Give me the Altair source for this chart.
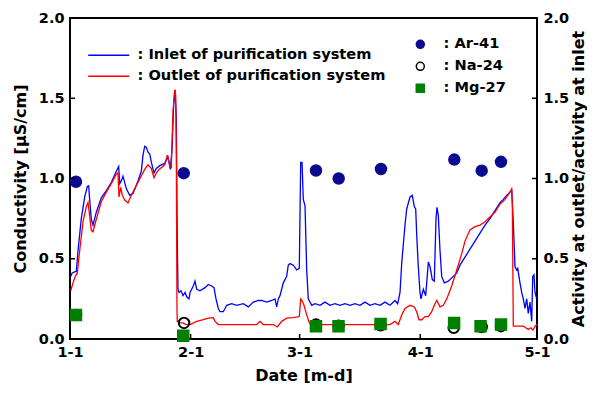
import altair as alt
import pandas as pd

# ---------------- data (days since 1-1, value) ----------------
inlet_day = [0.18, 0.51, 1.28, 1.62, 2.06, 2.90, 3.78, 4.45, 4.80, 5.06, 5.47, 5.91, 6.76, 8.04, 9.33,
             10.61, 11.90, 12.51, 12.77, 13.18, 13.62, 14.47, 15.34, 16.19, 17.47, 18.32, 18.76, 19.19,
             19.61, 20.04, 20.48, 20.89, 21.58, 22.18, 23.05, 24.33, 25.18, 25.77, 26.21, 26.65, 26.98,
             27.31, 27.57, 27.75, 28.01, 28.52, 29.04, 29.55, 30.06, 30.58, 30.84, 31.68, 32.12, 32.56,
             33.40, 34.69, 35.54, 36.41, 37.00, 37.52, 38.11, 38.54, 39.39, 40.27, 41.55, 42.84, 44.53,
             45.82, 47.10, 48.39, 49.26, 50.54, 51.83, 52.68, 53.11, 53.53, 53.96, 54.81, 55.68, 56.09,
             56.53, 57.38, 58.25, 58.92, 59.28, 59.62, 59.95, 60.39, 60.82, 61.23, 62.11, 62.96, 64.24,
             65.52, 66.81, 68.09, 69.38, 70.66, 71.95, 73.23, 74.52, 75.80, 77.09, 78.37, 79.66, 80.94,
             82.23, 83.51, 84.20, 84.80, 85.23, 85.65, 86.08, 86.52, 87.37, 87.96, 88.47, 88.83, 89.09,
             89.50, 89.94, 90.19, 90.79, 91.40, 91.92, 92.07, 92.51, 93.10, 93.61, 94.05, 94.30, 94.64,
             95.08, 95.51, 96.18, 97.21, 98.49, 99.37, 100.21, 101.50, 102.78, 104.07, 105.35, 106.64,
             107.92, 109.21, 110.49, 111.34, 112.21, 113.06, 113.50, 113.91, 114.35, 114.78, 115.04,
             115.37, 115.63, 116.07, 116.48, 116.92, 117.35, 117.76, 118.20, 118.64, 118.90, 119.23,
             119.49, 119.92]
inlet_val = [0.39, 0.41, 0.42, 0.42, 0.55, 0.75, 0.885, 0.95, 0.955, 0.865, 0.746, 0.71, 0.79, 0.88, 0.925,
             0.975, 1.045, 1.075, 0.967, 0.985, 1.015, 0.937, 0.895, 0.907, 0.985, 1.045, 1.146, 1.20,
             1.194, 1.164, 1.154, 1.104, 1.035, 1.063, 1.08, 1.094, 1.134, 1.057, 1.184, 1.463, 1.552,
             1.385, 0.60, 0.31, 0.29, 0.30, 0.27, 0.29, 0.26, 0.25, 0.29, 0.33, 0.36, 0.31,
             0.30, 0.32, 0.34, 0.33, 0.32, 0.25, 0.19, 0.17, 0.17, 0.21, 0.22, 0.21, 0.22,
             0.20, 0.23, 0.24, 0.24, 0.23, 0.24, 0.25, 0.20, 0.25, 0.27, 0.35, 0.39, 0.46,
             0.47, 0.46, 0.43, 0.44, 1.10, 1.10, 0.87, 0.83, 0.43, 0.25, 0.21, 0.22, 0.21,
             0.23, 0.21, 0.22, 0.21, 0.22, 0.21, 0.22, 0.21, 0.23, 0.21, 0.22, 0.21, 0.23,
             0.21, 0.24, 0.22, 0.29, 0.47, 0.59, 0.71, 0.81, 0.885, 0.895, 0.825, 0.81, 0.65,
             0.45, 0.29, 0.25, 0.31, 0.27, 0.43, 0.48, 0.45, 0.37, 0.36, 0.75, 0.82, 0.77,
             0.55, 0.39, 0.35, 0.36, 0.39, 0.41, 0.46, 0.51, 0.56, 0.61, 0.66, 0.71,
             0.75, 0.80, 0.85, 0.87, 0.895, 0.915, 0.925, 0.73, 0.45, 0.43, 0.44,
             0.39, 0.35, 0.29, 0.25, 0.19, 0.25, 0.16, 0.23, 0.11, 0.39, 0.40,
             0.29, 0.25]

outlet_day = [0.18, 0.77, 1.36, 1.88, 2.49, 3.34, 4.19, 4.63, 5.06, 5.47, 5.91, 6.76, 8.04, 9.33, 10.61,
              11.90, 12.33, 12.59, 13.03, 13.44, 14.06, 14.90, 15.75, 16.63, 17.91, 19.19, 20.04, 20.89,
              21.58, 22.18, 23.05, 24.33, 25.00, 25.62, 26.03, 26.47, 26.90, 27.16, 27.31, 27.49, 27.57,
              28.19, 29.04, 29.81, 30.84, 32.56, 34.25, 35.54, 36.82, 37.26, 38.11, 39.39, 41.96, 43.68,
              45.82, 47.97, 48.82, 49.67, 52.24, 53.27, 54.40, 55.68, 57.38, 58.92, 59.28, 59.62, 60.13,
              60.82, 61.49, 62.96, 66.81, 70.66, 74.52, 78.37, 82.23, 83.51, 84.36, 85.23, 86.08, 87.37,
              88.47, 89.09, 89.68, 90.37, 91.22, 92.07, 92.94, 93.61, 94.23, 95.08, 95.92, 96.80, 98.08,
              99.37, 100.65, 101.50, 102.78, 104.07, 105.35, 106.64, 107.92, 109.21, 110.49, 111.78,
              113.06, 113.50, 113.66, 113.91, 115.19, 116.48, 117.10, 117.76, 118.46, 118.97, 119.49,
              120.0]
outlet_val = [0.30, 0.35, 0.39, 0.41, 0.55, 0.73, 0.825, 0.85, 0.766, 0.677, 0.668, 0.746, 0.855, 0.915, 0.967,
              1.027, 1.035, 0.885, 0.945, 0.896, 0.866, 0.848, 0.896, 0.937, 0.997, 1.057, 1.085, 1.064,
              1.005, 1.035, 1.06, 1.085, 1.146, 1.085, 1.064, 1.42, 1.552, 1.52, 1.18, 0.19, 0.11,
              0.10, 0.10, 0.09, 0.09, 0.11, 0.12, 0.13, 0.133, 0.11, 0.09, 0.09, 0.09, 0.09,
              0.09, 0.09, 0.11, 0.09, 0.09, 0.075, 0.11, 0.13, 0.133, 0.14, 0.25, 0.24, 0.21,
              0.15, 0.10, 0.09, 0.09, 0.09, 0.09, 0.09, 0.09, 0.11, 0.09, 0.15, 0.19, 0.21,
              0.20, 0.17, 0.12, 0.12, 0.14, 0.14, 0.17, 0.21, 0.24, 0.20, 0.21, 0.25, 0.33,
              0.43, 0.53, 0.61, 0.68, 0.70, 0.71, 0.73, 0.76, 0.79, 0.84, 0.87,
              0.915, 0.935, 0.85, 0.08, 0.08, 0.08, 0.07, 0.06, 0.07, 0.055, 0.08,
              0.09]

ar_day = [1.54, 29.22, 63.21, 69.04, 79.91, 98.75, 105.79, 110.75]
ar_val = [0.98, 1.033, 1.05, 1.00, 1.059, 1.118, 1.049, 1.104]
na_day = [1.54, 29.3, 63.2, 69.0, 79.8, 98.6, 105.8, 110.75]
na_val = [0.15, 0.10, 0.09, 0.083, 0.085, 0.07, 0.075, 0.08]
mg_day = [1.54, 29.1, 63.2, 69.0, 79.8, 98.7, 105.5, 110.75]
mg_val = [0.15, 0.02, 0.08, 0.08, 0.094, 0.10, 0.08, 0.09]

series_names = ["Inlet of purification system", "Outlet of purification system"]
species_names = ["Ar-41", "Na-24", "Mg-27"]
x_tick_days = [0, 31, 59, 90, 120]
x_tick_labels = ["1-1", "2-1", "3-1", "4-1", "5-1"]
y_ticks = [0.0, 0.5, 1.0, 1.5, 2.0]

# ---------------- tables ----------------
lines_df = pd.concat([
    pd.DataFrame({"day": inlet_day, "value": inlet_val, "series": series_names[0], "k": 0}),
    pd.DataFrame({"day": outlet_day, "value": outlet_val, "series": series_names[1], "k": 1}),
], ignore_index=True)
points_df = pd.concat([
    pd.DataFrame({"day": ar_day, "value": ar_val, "species": species_names[0]}),
    pd.DataFrame({"day": na_day, "value": na_val, "species": species_names[1]}),
    pd.DataFrame({"day": mg_day, "value": mg_val, "species": species_names[2]}),
], ignore_index=True)
xt_df = pd.DataFrame({"day": x_tick_days})
yt_df = pd.DataFrame({"value": y_ticks})

W, H = 467, 321
FONT = "DejaVu Sans"
xscale = alt.Scale(domain=[0, 120], nice=False, zero=False)
yscale = alt.Scale(domain=[0, 2], nice=False)

label_expr = ""
for d, lab in zip(x_tick_days, x_tick_labels):
    label_expr += f"datum.value == {d} ? '{lab}' : "
label_expr += "''"

common_axis = dict(grid=False, ticks=False, domain=False, labelFont=FONT, labelFontSize=14.5,
                   labelFontWeight="bold", labelColor="black", titleFont=FONT, titleFontSize=16,
                   titleFontWeight="bold", titleColor="black")

xaxis = alt.Axis(values=x_tick_days, labelExpr=label_expr, title="Date [m-d]", labelFlush=False,
                 labelPadding=6, titleX=W / 2, titleY=41, titleBaseline="alphabetic",
                 **common_axis)

lines = alt.Chart(lines_df).mark_line(strokeWidth=1.3, clip=True).encode(
    x=alt.X("day:Q", scale=xscale, axis=xaxis),
    y=alt.Y("value:Q", scale=yscale,
            axis=alt.Axis(values=y_ticks, format=".1f", title="Conductivity [μS/cm]",
                          labelPadding=6, titleX=-45, titleY=H / 2, titleAngle=270,
                          titleBaseline="alphabetic", titleAlign="center", **common_axis)),
    color=alt.Color("series:N", scale=alt.Scale(domain=series_names, range=["#0000ff", "#ff0000"]),
                    legend=alt.Legend(title=None, orient="none", legendX=16, legendY=30,
                                      symbolType="M-4,0H4", symbolSize=105, symbolStrokeWidth=1.5,
                                      symbolOffset=15.4,
                                      labelExpr="': ' + datum.label", labelFont=FONT,
                                      labelFontSize=14.6, labelFontWeight="bold", labelColor="black",
                                      labelOffset=21.5, labelLimit=400, rowPadding=6, padding=0)),
    detail="k:N",
)

pleg = alt.Legend(title=None, orient="none", legendX=343, legendY=19, symbolSize=64,
                  symbolStrokeWidth=1.5, labelExpr="': ' + datum.label", labelFont=FONT,
                  labelFontSize=14.6, labelFontWeight="bold", labelColor="black",
                  labelOffset=16, labelLimit=200, rowPadding=6, padding=0)

points = alt.Chart(points_df).mark_point(size=110, strokeWidth=2, opacity=1).encode(
    x=alt.X("day:Q", scale=xscale, axis=xaxis),
    y=alt.Y("value:Q", scale=yscale,
            axis=alt.Axis(orient="right", values=y_ticks, format=".1f",
                          title="Activity at outlet/activity at inlet", labelPadding=6,
                          titleX=46, titleY=H / 2, titleAngle=270, titleBaseline="alphabetic",
                          titleAlign="center", **common_axis)),
    shape=alt.Shape("species:N", scale=alt.Scale(domain=species_names,
                                                 range=["circle", "circle", "square"]), legend=pleg),
    fill=alt.Fill("species:N", scale=alt.Scale(domain=species_names,
                                               range=["#0b0b8f", "transparent", "#008000"]), legend=pleg),
    stroke=alt.Stroke("species:N", scale=alt.Scale(domain=species_names,
                                                   range=["#0b0b8f", "black", "#008000"]), legend=pleg),
)

xticks = alt.Chart(xt_df).mark_rule(color="black", strokeWidth=1.5).encode(
    x=alt.X("day:Q", scale=xscale, axis=xaxis),
    y=alt.value(H), y2=alt.value(H - 5),
)
ytl = alt.Chart(yt_df).mark_rule(color="black", strokeWidth=1.5).encode(
    y=alt.Y("value:Q", scale=yscale, axis=None),
    x=alt.value(0), x2=alt.value(5),
)
ytr = alt.Chart(yt_df).mark_rule(color="black", strokeWidth=1.5).encode(
    y=alt.Y("value:Q", scale=yscale, axis=None),
    x=alt.value(W - 5), x2=alt.value(W),
)

chart = alt.layer(lines, points, xticks, ytl, ytr).resolve_scale(
    y="independent", color="independent", fill="independent", stroke="independent",
    shape="independent",
).properties(
    width=W, height=H,
    padding={"left": 62, "top": 10, "right": 50, "bottom": 45},
    autosize=alt.AutoSizeParams(type="none"),
).configure_view(stroke="black", strokeWidth=2)

chart.save("out.html", embed_options={"renderer": "svg", "actions": False})
